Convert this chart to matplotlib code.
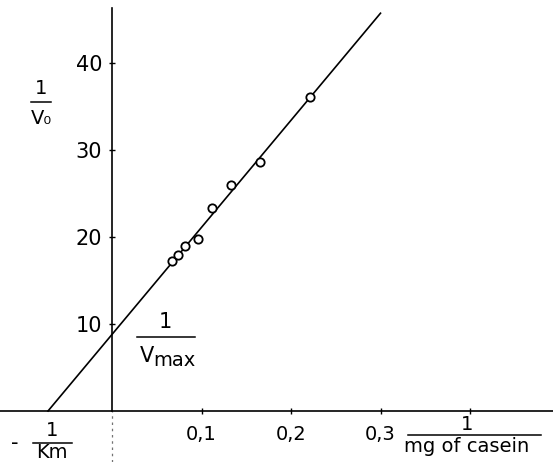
import numpy as np
import matplotlib
matplotlib.use("Agg")
import matplotlib.pyplot as plt
from matplotlib.lines import Line2D

# ---- data (Lineweaver-Burk plot) ----
inv_casein = [0.067, 0.074, 0.082, 0.096, 0.112, 0.133, 0.165, 0.221]   # 1 / mg of casein
inv_v0 = [17.2, 17.9, 19.0, 19.8, 23.3, 26.0, 28.6, 36.1]                # 1 / v0
inv_vmax = 8.8          # y intercept
neg_inv_km = -0.0715    # x intercept
line_end = 0.30         # where the drawn line stops

x_ticks = [0.1, 0.2, 0.3, 0.4]
x_tick_labels = ["0,1", "0,2", "0,3", ""]
y_ticks = [10, 20, 30, 40]
y_tick_labels = ["10", "20", "30", "40"]

W, H = 553, 462
fig = plt.figure(figsize=(W / 100, H / 100), dpi=100)
ax = fig.add_axes([0, 0, 1, 1])
ax.set_xlim(-112 / 895, (W - 112) / 895)
ax.set_ylim(-(H - 411) / 8.7, 411 / 8.7)

def px(x, y):
    # pixel position -> figure fraction (only for the hand-lettered labels)
    return x / W, 1 - y / H

# axes through the origin
for s in ["top", "right"]:
    ax.spines[s].set_visible(False)
ax.spines["left"].set_position(("data", 0))
ax.spines["bottom"].set_position(("data", 0))
ax.spines["left"].set_bounds(0, 46.3)
for s in ["left", "bottom"]:
    ax.spines[s].set_linewidth(1.2)
    ax.spines[s].set_color("black")

# faint continuation of the y axis below zero
ax.plot([0, 0], [ax.get_ylim()[0], 0], color="0.45", lw=0.9, ls=(0, (2, 3)))

ax.set_xticks(x_ticks)
ax.set_xticklabels(x_tick_labels)
ax.set_yticks(y_ticks)
ax.set_yticklabels(y_tick_labels)
ax.tick_params(axis="x", direction="inout", length=4, width=1, pad=8, labelsize=14)
ax.tick_params(axis="y", direction="inout", length=4, width=1, pad=5, labelsize=15)

# fitted line and measured points
slope = inv_vmax / -neg_inv_km
xl = np.array([neg_inv_km, line_end])
ax.plot(xl, inv_vmax + slope * xl, color="black", lw=1.2)
ax.plot(inv_casein, inv_v0, "o", ms=6, mfc="white", mec="black", mew=1.3)

# hand-lettered fraction labels
def frac(cx, y_num, y_bar, y_den, x0, x1, den, size=15, den_size=None):
    fig.text(*px(cx, y_num), "1", ha="center", va="center", fontsize=size)
    fig.add_artist(Line2D([x0 / W, x1 / W], [1 - y_bar / H, 1 - y_bar / H],
                          color="black", lw=1.1))
    if den is not None:
        fig.text(*px(cx, y_den), den, ha="center", va="center",
                 fontsize=den_size or size)

frac(41, 89, 102, 119, 31, 51, "V\u2080", size=14)
frac(165, 322, 337, None, 137, 195, None, size=15)
fig.text(*px(147, 356), "V", ha="center", va="center", fontsize=15)
fig.text(*px(174, 360), "max", ha="center", va="center", fontsize=14)
frac(52, 431, 443, 453, 33, 72, "Km", size=14)
fig.text(*px(15, 443), "-", ha="center", va="center", fontsize=15)
frac(467, 425, 435, 447, 408, 541, "mg of casein", size=14)

fig.savefig("out.png", dpi=100)
